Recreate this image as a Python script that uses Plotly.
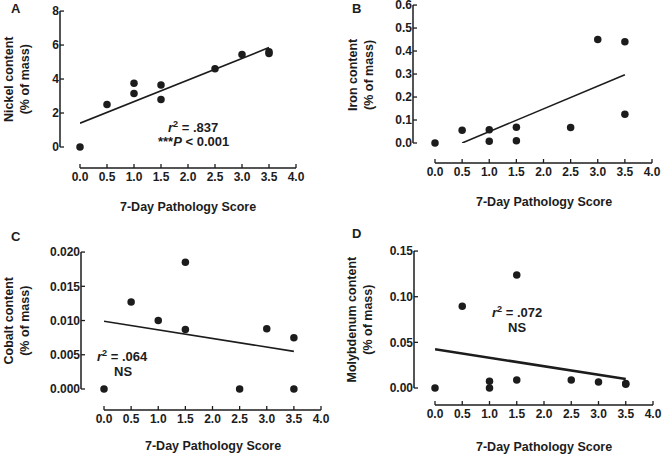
import plotly.graph_objects as go

W, H = 662, 455


def PX(x):
    return x / W


def PY(y):
    return 1 - y / H


# ---------------- data ----------------
score_x = [0.0, 0.5, 1.0, 1.0, 1.5, 1.5, 2.5, 3.0, 3.5, 3.5]

nickel = [0.0, 2.5, 3.75, 3.15, 3.65, 2.8, 4.6, 5.45, 5.5, 5.6]
iron = [0.0, 0.055, 0.058, 0.008, 0.068, 0.010, 0.067, 0.45, 0.44, 0.125]
cobalt_x = [0.0, 0.5, 1.0, 1.5, 1.5, 2.5, 3.0, 3.5, 3.5]
cobalt = [0.0, 0.0127, 0.0100, 0.0185, 0.0087, 0.0, 0.0088, 0.0075, 0.0]
molyb = [0.0, 0.0896, 0.0073, 0.0, 0.1237, 0.0088, 0.0088, 0.0066, 0.005, 0.004]

nickel_fit_x, nickel_fit_y = [0.0, 3.5], [1.4, 5.85]
iron_fit_x, iron_fit_y = [0.5, 3.5], [0.0, 0.297]
cobalt_fit_x, cobalt_fit_y = [0.0, 3.5], [0.0099, 0.0055]
molyb_fit_x, molyb_fit_y = [0.0, 3.5], [0.0424, 0.0099]

x_ticks = [0.0, 0.5, 1.0, 1.5, 2.0, 2.5, 3.0, 3.5, 4.0]
nickel_ticks = [0, 2, 4, 6, 8]
iron_ticks = [0.0, 0.1, 0.2, 0.3, 0.4, 0.5, 0.6]
cobalt_ticks = [0.000, 0.005, 0.010, 0.015, 0.020]
molyb_ticks = [0.00, 0.05, 0.10, 0.15]
x_title = "7-Day Pathology Score"

panels = [
    dict(letter="A", x=score_x, y=nickel, fx=nickel_fit_x, fy=nickel_fit_y,
         yticks=nickel_ticks, fmt="d", ytitle="Nickel content<br>(% of mass)",
         notes=[("<i>r</i><sup>2</sup> = .837", 2.1, 1.2, "center"),
                ("***<i>P</i> < 0.001", 2.1, 0.3, "center")],
         px=(80, 296), py=(147, 11), yax=60, xax=168, lw=1.6,
         yt_x=17, xt_y=207, let=(9, 8)),
    dict(letter="B", x=score_x, y=iron, fx=iron_fit_x, fy=iron_fit_y,
         yticks=iron_ticks, fmt=".1f", ytitle="Iron content<br>(% of mass)",
         notes=[("<i>r</i><sup>2</sup> = .526", -0.02, 0.345, "left"),
                ("*<i>P</i> < 0.05", -0.02, 0.275, "left")],
         px=(435, 652), py=(143, 5), yax=413, xax=163, lw=1.6,
         yt_x=361, xt_y=202, let=(350, 8)),
    dict(letter="C", x=cobalt_x, y=cobalt, fx=cobalt_fit_x, fy=cobalt_fit_y,
         yticks=cobalt_ticks, fmt=".3f", ytitle="Cobalt content<br>(% of mass)",
         notes=[("<i>r</i><sup>2</sup> = .064", 0.35, 0.0048, "center"),
                ("NS", 0.35, 0.0026, "center")],
         px=(104, 321), py=(389, 252), yax=81, xax=410, lw=1.6,
         yt_x=16, xt_y=446, let=(9, 236)),
    dict(letter="D", x=score_x, y=molyb, fx=molyb_fit_x, fy=molyb_fit_y,
         yticks=molyb_ticks, fmt=".2f", ytitle="Molybdenum content<br>(% of mass)",
         notes=[("<i>r</i><sup>2</sup> = .072", 1.5, 0.083, "center"),
                ("NS", 1.5, 0.066, "center")],
         px=(435, 653), py=(388, 251), yax=414, xax=405, lw=2.6,
         yt_x=359, xt_y=447, let=(350, 234)),
]

FONT = "Liberation Sans, Arial, sans-serif"
INK = "#1c1c1c"
TICK_LEN = 4.0    # px, ticks point inwards (Prism style)
AX_W = 1.5        # px, axis line thickness
TK_W = 1.3        # px, tick thickness
X_RANGE = [0.0, 4.0]

fig = go.Figure()
layout = dict(width=W, height=H, margin=dict(l=0, r=0, t=0, b=0, pad=0),
              paper_bgcolor="white", plot_bgcolor="rgba(0,0,0,0)", showlegend=False,
              font=dict(family=FONT, color=INK, size=12, weight="bold"))
annotations = []
shapes = []

hidden = dict(showline=False, showticklabels=False, ticks="", showgrid=False,
              zeroline=False, fixedrange=True, automargin=False)
labels_only = dict(ticks="", showline=False, showgrid=False, zeroline=False,
                   fixedrange=True, automargin=False, ticklabeloverflow="allow",
                   tickfont=dict(size=12, family=FONT, color=INK, weight="bold"))
NOLINE = dict(width=0, color="rgba(0,0,0,0)")


def ax_name(k):
    return "" if k == 1 else str(k)


for i, p in enumerate(panels):
    kd, kx, ky = 3 * i + 1, 3 * i + 2, 3 * i + 3
    xdat, ydat = "x" + ax_name(kd), "y" + ax_name(kd)     # data subplot
    xshow, xhelp = "x" + ax_name(kx), "y" + ax_name(kx)   # detached x axis + its thin anchor
    yhelp, yshow = "x" + ax_name(ky), "y" + ax_name(ky)   # thin anchor + detached y axis
    ymax = max(p["yticks"])
    yr = [0, ymax * 1.0005]
    xdom = [PX(p["px"][0]), PX(p["px"][1])]
    ydom = [PY(p["py"][0]), PY(p["py"][1])]

    fig.add_trace(go.Scatter(x=p["x"], y=p["y"], mode="markers", xaxis=xdat, yaxis=ydat,
                             marker=dict(size=7.5, color=INK), cliponaxis=False,
                             showlegend=False))
    fig.add_trace(go.Scatter(x=p["fx"], y=p["fy"], mode="lines", xaxis=xdat, yaxis=ydat,
                             line=dict(color=INK, width=p["lw"]), cliponaxis=False,
                             showlegend=False))
    fig.add_trace(go.Scatter(x=[None], y=[None], xaxis=xshow, yaxis=xhelp, mode="markers",
                             showlegend=False, hoverinfo="skip"))
    fig.add_trace(go.Scatter(x=[None], y=[None], xaxis=yhelp, yaxis=yshow, mode="markers",
                             showlegend=False, hoverinfo="skip"))

    layout["xaxis" + ax_name(kd)] = dict(domain=xdom, range=X_RANGE, anchor=ydat, **hidden)
    layout["yaxis" + ax_name(kd)] = dict(domain=ydom, range=yr, anchor=xdat, **hidden)

    yb = PY(p["xax"])
    layout["xaxis" + ax_name(kx)] = dict(domain=xdom, range=X_RANGE, anchor=xhelp,
                                         side="bottom", tickvals=x_ticks,
                                         tickformat=".1f", **labels_only)
    layout["yaxis" + ax_name(kx)] = dict(domain=[yb, yb + 0.004], range=[0, 1],
                                         anchor=xshow, **hidden)

    xl = PX(p["yax"])
    layout["yaxis" + ax_name(ky)] = dict(domain=ydom, range=yr, anchor=yhelp, side="left",
                                         tickvals=p["yticks"], tickformat=p["fmt"],
                                         **labels_only)
    layout["xaxis" + ax_name(ky)] = dict(domain=[xl, xl + 0.004], range=[0, 1],
                                         anchor=yshow, **hidden)

    # detached x axis: thin filled bars (line + inward ticks) laid over the axis span
    xspan = X_RANGE[1] - X_RANGE[0]
    xlen = xdom[1] - xdom[0]
    shapes.append(dict(type="rect", xref="paper", yref="paper",
                       x0=xdom[0], x1=xdom[1], y0=yb - AX_W / 2 / H, y1=yb + AX_W / 2 / H,
                       fillcolor=INK, line=NOLINE, layer="above"))
    for t in x_ticks:
        xc = xdom[0] + xlen * (t - X_RANGE[0]) / xspan
        shapes.append(dict(type="rect", xref="paper", yref="paper",
                           x0=xc - TK_W / 2 / W, x1=xc + TK_W / 2 / W,
                           y0=yb, y1=yb + TICK_LEN / H,
                           fillcolor=INK, line=NOLINE, layer="above"))
    # detached y axis: line + inward ticks
    shapes.append(dict(type="rect", xref="paper", yref=yshow + " domain",
                       x0=xl - AX_W / 2 / W, x1=xl + AX_W / 2 / W, y0=0, y1=1,
                       fillcolor=INK, line=NOLINE, layer="above"))
    ylen_px = p["py"][0] - p["py"][1]
    for t in p["yticks"]:
        f = (t - yr[0]) / (yr[1] - yr[0])
        hh = TK_W / 2 / ylen_px
        shapes.append(dict(type="rect", xref="paper", yref=yshow + " domain",
                           x0=xl, x1=xl + TICK_LEN / W, y0=f - hh, y1=f + hh,
                           fillcolor=INK, line=NOLINE, layer="above"))

    # axis titles
    annotations.append(dict(text=x_title, xref="paper", yref="paper",
                            x=PX((p["px"][0] + p["px"][1]) / 2), y=PY(p["xt_y"]),
                            showarrow=False, xanchor="center", yanchor="middle",
                            font=dict(size=12.5, family=FONT, color=INK, weight="bold")))
    annotations.append(dict(text=p["ytitle"], xref="paper", yref="paper",
                            x=PX(p["yt_x"]), y=PY((p["py"][0] + p["py"][1]) / 2),
                            textangle=-90, showarrow=False, xanchor="center", yanchor="middle",
                            font=dict(size=12.5, family=FONT, color=INK, weight="bold")))
    # panel letter
    annotations.append(dict(text=p["letter"], xref="paper", yref="paper",
                            x=PX(p["let"][0]), y=PY(p["let"][1]),
                            showarrow=False, xanchor="left", yanchor="middle",
                            font=dict(size=13, family=FONT, color=INK, weight="bold")))
    for txt, tx, ty, al in p["notes"]:
        annotations.append(dict(text=txt, xref=xdat, yref=ydat, x=tx, y=ty, showarrow=False,
                                xanchor=al, yanchor="middle",
                                font=dict(size=13, family=FONT, color=INK, weight="bold")))

layout["annotations"] = annotations
layout["shapes"] = shapes
fig.update_layout(**layout)
# let the figure start at the window's top-left corner (no default page margin)
fig.write_html("out.html", config={"displayModeBar": False},
               post_script="document.body.style.margin='0px';")
